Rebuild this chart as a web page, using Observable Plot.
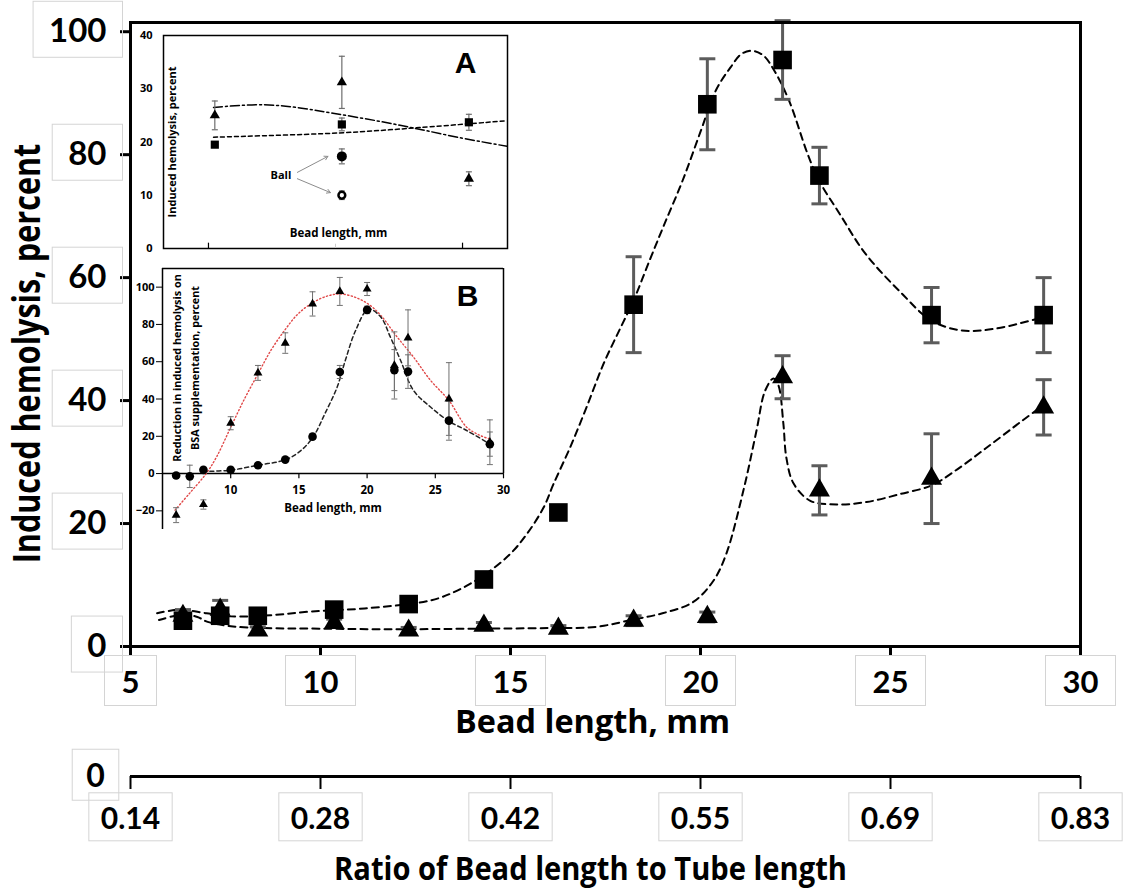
<!DOCTYPE html>
<html><head><meta charset="utf-8">
<script src="https://cdn.jsdelivr.net/npm/d3@7"></script>
<script src="https://cdn.jsdelivr.net/npm/@observablehq/plot@0.6"></script>
<style>
body{margin:0;background:#fff;}
#wrap{position:relative;width:1126px;height:890px;overflow:hidden;background:#fff;}
#wrap > div{position:absolute;}
#wrap svg{overflow:visible;display:block;}
</style></head><body><div id="wrap"></div>
<script>
// ---------- main chart data ----------
const xTicks = [5, 10, 15, 20, 25, 30];
const yTicks = [0, 20, 40, 60, 80, 100];
const ratioLabels = ["0.14", "0.28", "0.42", "0.55", "0.69", "0.83"];

const mainBead = [6.38, 7.36, 8.35, 10.36, 12.32, 14.3, 16.26, 18.24, 20.18, 22.16, 23.13, 26.08, 29.03];
const squareVal = [4.2, 5.0, 5.0, 6.0, 6.9, 10.9, 21.8, 55.6, 88.2, 95.4, 76.6, 53.9, 53.9];
const squareErr = [0.8, 0.8, 0.6, 0.6, 0.6, 0.6, 0.5, 7.8, 7.4, 6.4, 4.6, 4.5, 6.1];
const triVal = [5.0, 6.0, 2.6, 3.85, 2.6, 3.4, 2.9, 4.2, 4.8, 43.8, 25.4, 27.3, 38.9];
const triErr = [1.0, 1.5, 0.6, 0.6, 0.5, 0.5, 0.5, 0.8, 0.8, 3.5, 4.0, 7.3, 4.5];

// fitted curves
const sqFitX = [5.7, 6.3, 7.0, 7.64, 8.7, 9.76, 11.16, 12.9, 13.6, 14.3, 15.0, 15.43, 15.87, 16.13, 16.57, 17.0, 17.45, 17.9, 18.24, 18.66, 19.05, 19.53, 20.01, 20.4, 20.79, 21.08, 21.37, 21.66, 21.94, 22.33, 22.82, 23.12, 23.66, 24.34, 25.3, 26.08, 26.88, 27.76, 28.92];
const sqFitY = [5.4, 6.0, 5.4, 4.9, 5.1, 5.7, 6.2, 7.5, 9.1, 11.6, 15.1, 18.3, 22.6, 26.4, 32.4, 38.9, 46.0, 51.9, 56.3, 62.8, 68.7, 75.8, 83.9, 90.4, 94.2, 96.4, 96.9, 96.1, 93.7, 88.8, 80.1, 75.8, 70.4, 63.9, 57.4, 53.0, 51.4, 51.7, 53.4];
const triFitX = [5.75, 6.38, 6.76, 7.03, 7.64, 8.52, 10, 12, 14, 16, 17.25, 18.24, 19.0, 19.8, 20.34, 20.68, 21.13, 21.47, 21.7, 21.92, 22.05, 22.18, 22.26, 22.45, 22.89, 23.58, 24.37, 25.26, 26.08, 26.66, 27.5, 28.46, 29.03];
const triFitY = [4.3, 5.2, 4.8, 4.0, 3.3, 3.0, 2.9, 2.8, 2.9, 3.0, 3.2, 4.4, 5.4, 7.2, 10.7, 15.1, 25.4, 35.0, 41.6, 43.6, 42.5, 36.3, 30.7, 26.5, 23.7, 23.1, 23.5, 24.8, 26.2, 28.4, 32.2, 36.7, 39.3];

// ---------- inset A data ----------
const aTicks = [1, 2, 3];
const aYTicks = [0, 10, 20, 30, 40];
const aX = [1.05, 2.05, 3.05];
const aTri = [25.0, 31.2, 13.1];
const aTriErr = [2.7, 4.9, 1.3];
const aSq = [19.5, 23.3, 23.7];
const aSqErr = [0, 1.2, 1.5];
const aBallX = [2.05];
const aBallFilled = [17.3];
const aBallFilledErr = [1.4];
const aBallOpen = [10.0];
const aBallOpenErr = [0.8];
const aSqFitX = [1.04, 2.03, 2.66, 3.35];
const aSqFitY = [20.9, 21.7, 22.7, 24.0];
const aTriFitX = [1.04, 1.43, 1.72, 1.98, 2.32, 2.64, 2.98, 3.35];
const aTriFitY = [26.5, 27.0, 26.4, 25.4, 24.0, 22.5, 20.8, 19.2];
const ballLabel = {x: 1.57, y: 13.7};
const ballArrowX1 = [1.70, 1.70];
const ballArrowY1 = [14.3, 13.1];
const ballArrowX2 = [1.94, 1.96];
const ballArrowY2 = [17.3, 10.5];

// ---------- inset B data ----------
const bXTicks = [10, 15, 20, 25, 30];
const bYTicks = [-20, 0, 20, 40, 60, 80, 100];
const bCircX = [6, 7, 8, 10, 12, 14, 16, 18, 20, 22, 23, 26, 29];
const bCirc = [-1, -1.5, 2, 2, 4.5, 7.5, 19.8, 54.5, 87.8, 55.5, 54.7, 28.4, 15.8];
const bCircErr = [0.8, 6, 1, 1, 1, 1, 1.5, 3.5, 2, 11, 9, 10.5, 6.5];
const bTriX = [6, 8, 10, 12, 14, 16, 18, 20, 22, 23, 26, 29];
const bTri = [-22.3, -16.6, 27, 54, 70, 91, 97.7, 99, 58, 72.8, 40, 16.8];
const bTriErr = [4, 2.5, 3.5, 4, 5.5, 6.5, 7.5, 3.5, 18, 15, 19.5, 12];
const bRedFitX = [5.92, 6.97, 8.2, 8.96, 9.95, 10.95, 12.0, 12.94, 13.93, 14.93, 16.04, 17.16, 18.1, 19.15, 20.15, 21.0, 22.2, 23.4, 24.65, 26.0, 27.3, 28.3, 28.9];
const bRedFitY = [-19.6, -10.7, 0, 8.9, 24, 39.2, 53.5, 66, 76.6, 85.6, 91.8, 95.4, 96.3, 94.5, 90.6, 84.9, 73.3, 62.5, 50, 39.2, 24.9, 20.4, 18.8];
const bBlkFitX = [7.96, 9.95, 12.0, 14.05, 15.17, 16.04, 16.9, 17.8, 18.4, 19.15, 20.1, 21.0, 21.7, 22.45, 23.4, 24.65, 26.0, 27.3, 28.9];
const bBlkFitY = [1.2, 1.8, 4.5, 7.5, 12.5, 19.6, 32, 46.3, 60.6, 76.6, 88.2, 84, 73.3, 60.8, 44.6, 35.7, 28.1, 23.1, 16.3];

// ---------- helpers ----------
const zipXY = (xs, ys) => xs.map((x, i) => ({x, y: ys[i]}));
const errRows = (xs, ys, es) => xs.map((x, i) => ({x, y: ys[i], lo: ys[i] - es[i], hi: ys[i] + es[i]}));
const capSymbol = {draw(ctx, size) { const w = Math.sqrt(size / Math.PI); ctx.moveTo(-w, 0); ctx.lineTo(w, 0); }};
function errMarks(rows, color, width, cap) {
  return [
    Plot.ruleX(rows, {x: "x", y1: "lo", y2: "hi", stroke: color, strokeWidth: width}),
    Plot.dot(rows, {x: "x", y: "hi", symbol: capSymbol, r: cap, fill: "none", stroke: color, strokeWidth: width}),
    Plot.dot(rows, {x: "x", y: "lo", symbol: capSymbol, r: cap, fill: "none", stroke: color, strokeWidth: width})
  ];
}
const TF = "Lato";
const HF = "Open Sans";

// ---------- main plot ----------
const sqRows = errRows(mainBead, squareVal, squareErr);
const triRows = errRows(mainBead, triVal, triErr);
const mainPlot = Plot.plot({
  width: 1126, height: 750,
  marginLeft: 130, marginRight: 46, marginTop: 22, marginBottom: 104,
  style: {background: "transparent", fontFamily: TF, overflow: "visible"},
  x: {domain: [5, 30]},
  y: {domain: [0, 101.5]},
  marks: [
    Plot.line(zipXY(sqFitX, sqFitY), {x: "x", y: "y", curve: "catmull-rom", stroke: "black", strokeWidth: 2, strokeDasharray: "7,5"}),
    Plot.line(zipXY(triFitX, triFitY), {x: "x", y: "y", curve: "catmull-rom", stroke: "black", strokeWidth: 2, strokeDasharray: "7,5"}),
    ...errMarks(sqRows, "#5c5c5c", 3, 8),
    ...errMarks(triRows, "#5c5c5c", 3, 8),
    Plot.dot(sqRows, {x: "x", y: "y", symbol: "square", r: 10.5, fill: "black"}),
    Plot.dot(triRows, {x: "x", y: "y", symbol: "triangle", r: 7.8, fill: "black"}),
    Plot.frame({stroke: "black", strokeWidth: 3}),
    Plot.axisX(xTicks, {tickSize: 10, tickPadding: 14, strokeWidth: 3, fontSize: 31, fontWeight: "bold", fontFamily: TF, label: null, tickFormat: d => String(d)}),
    Plot.axisY(yTicks, {tickSize: 10, tickPadding: 14, strokeWidth: 3, fontSize: 33, fontWeight: "bold", fontFamily: TF, label: null, tickFormat: d => String(d)}),
    Plot.text(["Induced hemolysis, percent"], {text: d => d, frameAnchor: "left", textAnchor: "middle", lineAnchor: "middle", dx: -102, dy: 19, rotate: -90, fontSize: 37, fontWeight: "bold", fontFamily: HF, ariaLabel: () => "ytitle"}),
    Plot.text(["Bead length, mm"], {text: d => d, frameAnchor: "bottom", lineAnchor: "middle", dx: -13, dy: 76, fontSize: 32, fontWeight: "bold", fontFamily: HF, ariaLabel: () => "xtitle"})
  ]
});

// ---------- ratio axis ----------
const ratioPlot = Plot.plot({
  width: 1126, height: 150,
  marginLeft: 130, marginRight: 46, marginTop: 35, marginBottom: 114,
  style: {background: "transparent", fontFamily: TF, overflow: "visible"},
  x: {domain: [5, 30]},
  y: {domain: [0, 1], axis: null},
  marks: [
    Plot.ruleY([0], {stroke: "black", strokeWidth: 3}),
    Plot.axisX(xTicks, {tickSize: 13, tickPadding: 18, strokeWidth: 2, fontSize: 30, fontWeight: "bold", fontFamily: TF, label: null, tickFormat: d => ratioLabels[xTicks.indexOf(d)]}),
    Plot.text(["0"], {text: d => d, frameAnchor: "left", textAnchor: "middle", dx: -35, dy: 1, fontSize: 32, fontWeight: "bold", fontFamily: TF, ariaLabel: () => "boxed label"}),
    Plot.text(["Ratio of Bead length to Tube length"], {text: d => d, frameAnchor: "bottom", lineAnchor: "middle", dx: -15, dy: 93, fontSize: 32, fontWeight: "bold", fontFamily: HF, ariaLabel: () => "rtitle"})
  ]
});

// ---------- inset A ----------
const aTriRows = errRows(aX, aTri, aTriErr);
const aSqRows = errRows(aX, aSq, aSqErr);
const aFillRows = errRows(aBallX, aBallFilled, aBallFilledErr);
const aOpenRows = errRows(aBallX, aBallOpen, aBallOpenErr);
const arrows = ballArrowX1.map((x1, i) => ({x1, y1: ballArrowY1[i], x2: ballArrowX2[i], y2: ballArrowY2[i]}));
const insetA = Plot.plot({
  width: 520, height: 260,
  marginLeft: 163, marginRight: 13, marginTop: 35, marginBottom: 12,
  style: {background: "transparent", fontFamily: HF, overflow: "visible"},
  x: {domain: [0.646, 3.354], axis: null},
  y: {domain: [0, 40]},
  marks: [
    Plot.frame({fill: "white", stroke: "black", strokeWidth: 1.5}),
    Plot.ruleX(aTicks.filter(d => d !== 2), {y1: 0, y2: 1, stroke: "black", strokeWidth: 1.2}),
    Plot.ruleX(aTicks.filter(d => d === 2), {y1: 0, y2: 0.8, stroke: "#cccccc", strokeWidth: 1}),
    Plot.line(zipXY(aSqFitX, aSqFitY), {x: "x", y: "y", curve: "catmull-rom", stroke: "black", strokeWidth: 1.5, strokeDasharray: "4,3"}),
    Plot.line(zipXY(aTriFitX, aTriFitY), {x: "x", y: "y", curve: "catmull-rom", stroke: "black", strokeWidth: 1.5, strokeDasharray: "9,3,2,3"}),
    ...errMarks(aTriRows, "#6e6e6e", 1.2, 3),
    ...errMarks(aSqRows.filter(d => d.hi > d.lo), "#6e6e6e", 1.2, 3),
    ...errMarks(aFillRows, "#6e6e6e", 1.2, 3),
    ...errMarks(aOpenRows, "#6e6e6e", 1.2, 3),
    Plot.dot(aTriRows, {x: "x", y: "y", symbol: "triangle", r: 3.8, fill: "black"}),
    Plot.dot(aSqRows, {x: "x", y: "y", symbol: "square", r: 4.6, fill: "black"}),
    Plot.dot(aFillRows, {x: "x", y: "y", r: 5, fill: "black"}),
    Plot.dot(aOpenRows, {x: "x", y: "y", r: 3.4, fill: "white", stroke: "black", strokeWidth: 2.5}),
    Plot.arrow(arrows, {x1: "x1", y1: "y1", x2: "x2", y2: "y2", stroke: "#8c8c8c", strokeWidth: 1, headLength: 6}),
    Plot.text([ballLabel], {x: "x", y: "y", text: () => "Ball", fontSize: 11, fontWeight: "bold"}),
    Plot.axisY(aYTicks, {tickSize: 0, tickPadding: 11, fontSize: 11, fontWeight: "bold", label: null}),
    Plot.text(["Induced hemolysis, percent"], {text: d => d, frameAnchor: "left", textAnchor: "middle", lineAnchor: "middle", dx: 9, rotate: -90, fontSize: 11, fontWeight: "bold"}),
    Plot.text(["Bead length, mm"], {text: d => d, frameAnchor: "bottom", lineAnchor: "middle", dx: 3, dy: -15, fontSize: 11.5, fontWeight: "bold"}),
    Plot.text(["A"], {text: d => d, frameAnchor: "top-right", textAnchor: "middle", lineAnchor: "middle", dx: -42, dy: 28, fontSize: 30, fontWeight: "bold", fontFamily: "Liberation Sans"})
  ]
});

// ---------- inset B ----------
const bCircRows = errRows(bCircX, bCirc, bCircErr);
const bTriRows = errRows(bTriX, bTri, bTriErr);
const insetB = Plot.plot({
  width: 520, height: 300,
  marginLeft: 162, marginRight: 17, marginTop: 18, marginBottom: 21,
  style: {background: "transparent", fontFamily: HF, overflow: "visible"},
  x: {domain: [5, 30], axis: null},
  y: {domain: [-30, 110]},
  marks: [
    Plot.ruleY([110], {stroke: "black", strokeWidth: 1.5}),
    Plot.ruleX([30], {y1: 0, y2: 110, stroke: "black", strokeWidth: 1.5}),
    Plot.ruleX([5], {y1: -30, y2: 110, stroke: "black", strokeWidth: 1.5}),
    Plot.ruleY([0], {stroke: "black", strokeWidth: 1.5}),
    Plot.ruleX(bXTicks, {y1: 0, y2: -2.8, stroke: "black", strokeWidth: 1.2}),
    Plot.text(bXTicks, {x: d => d, y: 0, dy: 17, text: d => String(d), fontSize: 11.5, fontWeight: "bold"}),
    Plot.line(zipXY(bRedFitX, bRedFitY), {x: "x", y: "y", curve: "catmull-rom", stroke: "#e04848", strokeWidth: 1.4, strokeDasharray: "1.2,2.4"}),
    Plot.line(zipXY(bBlkFitX, bBlkFitY), {x: "x", y: "y", curve: "catmull-rom", stroke: "#222", strokeWidth: 1.5, strokeDasharray: "4,3"}),
    ...errMarks(bTriRows, "#707070", 1, 3),
    ...errMarks(bCircRows, "#707070", 1, 3),
    Plot.dot(bTriRows, {x: "x", y: "y", symbol: "triangle", r: 3.3, fill: "black"}),
    Plot.dot(bCircRows, {x: "x", y: "y", r: 4.3, fill: "black"}),
    Plot.axisY(bYTicks, {tickSize: 6, tickPadding: 2, fontSize: 11, fontWeight: "bold", label: null}),
    Plot.text(["Reduction in induced hemolysis on\nBSA supplementation, percent"], {text: d => d, frameAnchor: "left", textAnchor: "middle", lineAnchor: "middle", dx: 22, dy: -31, rotate: -90, lineHeight: 1.6, fontSize: 10.8, fontWeight: "bold"}),
    Plot.text(["Bead length, mm"], {text: d => d, frameAnchor: "bottom", lineAnchor: "middle", dy: -21, fontSize: 11.5, fontWeight: "bold"}),
    Plot.text(["B"], {text: d => d, frameAnchor: "top-right", textAnchor: "middle", lineAnchor: "middle", dx: -36, dy: 28, fontSize: 30, fontWeight: "bold", fontFamily: "Liberation Sans"})
  ]
});

// ---------- layout ----------
const wrap = document.getElementById("wrap");
function place(node, left, top) {
  const d = document.createElement("div");
  d.style.left = left + "px"; d.style.top = top + "px";
  d.appendChild(node); wrap.appendChild(d);
}
place(mainPlot, 0, 0);
place(ratioPlot, 0, 740);
place(insetA, 0, 0);
place(insetB, 0, 250);

// find text elements either labelled directly or inside a labelled group
function textsFor(svg, sel) {
  const out = [];
  svg.querySelectorAll(sel).forEach(el => {
    if (el.tagName.toLowerCase() === "text") out.push(el);
    else el.querySelectorAll("text").forEach(t => out.push(t));
  });
  return out;
}
function addBoxes(svg, sel, padX, padY) {
  textsFor(svg, sel).forEach(t => {
    const b = t.getBBox();
    const r = document.createElementNS("http://www.w3.org/2000/svg", "rect");
    r.setAttribute("x", b.x - padX); r.setAttribute("y", b.y - padY);
    r.setAttribute("width", b.width + 2 * padX); r.setAttribute("height", b.height + 2 * padY);
    r.setAttribute("fill", "none"); r.setAttribute("stroke", "#d4d4d4"); r.setAttribute("stroke-width", "1");
    const tr = t.getAttribute("transform"); if (tr) r.setAttribute("transform", tr);
    t.parentNode.insertBefore(r, t);
  });
}
// condensed look of the original's titles: squeeze along the text direction
function fitLength(svg, sel, len) {
  textsFor(svg, sel).forEach(t => {
    const b = t.getBBox();
    if (!b.width) return;
    const s = len / b.width;
    const ax = b.x + b.width / 2, ay = b.y + b.height / 2;
    const tr = t.getAttribute("transform") || "";
    t.setAttribute("transform", `${tr} translate(${ax},${ay}) scale(${s},1) translate(${-ax},${-ay})`);
  });
}
fitLength(mainPlot, '[aria-label="ytitle"]', 420);
fitLength(mainPlot, '[aria-label="xtitle"]', 275);
fitLength(ratioPlot, '[aria-label="rtitle"]', 513);
addBoxes(mainPlot, 'g[aria-label="x-axis tick label"] text', 17, 6);
addBoxes(mainPlot, 'g[aria-label="y-axis tick label"] text', 16, 8);
addBoxes(ratioPlot, 'g[aria-label="x-axis tick label"] text', 12, 6);
addBoxes(ratioPlot, '[aria-label="boxed label"]', 14, 6);
</script></body></html>
